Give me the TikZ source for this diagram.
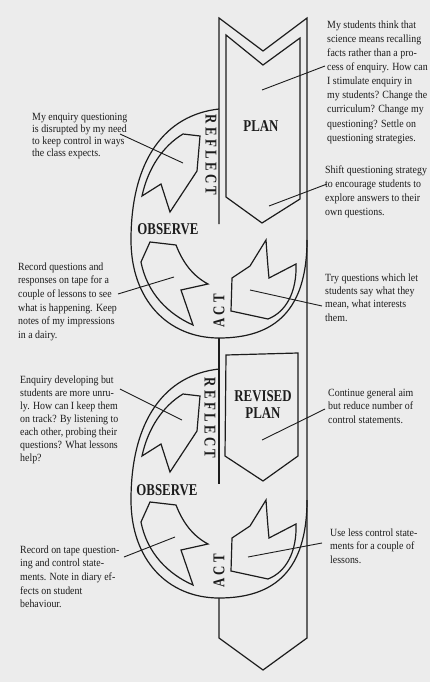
\documentclass[tikz,border=0pt]{standalone}
\usepackage{fontspec}
\setmainfont{Liberation Serif}
\newfontfamily\notefont[FakeStretch=0.9]{Liberation Serif}
\newfontfamily\stagefont[FakeStretch=0.78]{Liberation Serif}
\newfontfamily\sidefont[FakeStretch=0.78,LetterSpace=20]{Liberation Serif}
\usetikzlibrary{calc}
\definecolor{ScanGrey}{RGB}{236,236,236}
\definecolor{InkBlack}{RGB}{28,28,28}

\begin{document}
\begin{tikzpicture}[x=1pt,y=-1pt,InkBlack,
    note/.style={anchor=north west,inner sep=0pt,align=left,font=\notefont\fontsize{11}{13.6}\selectfont},
    stage/.style={inner sep=0pt,font=\stagefont\bfseries\fontsize{16.5}{17}\selectfont},
    side/.style={inner sep=0pt,font=\sidefont\bfseries\fontsize{16.5}{17}\selectfont},
    lead/.style={line width=0.9pt},
    outline/.style={line width=1.2pt,line join=miter}]
    \useasboundingbox (0,0) rectangle (430,682);
    \fill[ScanGrey] (0,0) rectangle (430,682);

    \draw[outline] (219,224) -- (219,18) -- (263,51) -- (307,18) -- (307,638) -- (263,670) -- (219,638) -- (219,598);
    \draw[outline] (219,338) -- (219,484);
    \draw[outline] (226,35) -- (263,65) -- (300,38) -- (300,199) -- (262,223) -- (226,197) -- cycle;
    \draw[outline] (226,355) -- (298,353) -- (298,456) -- (263,481) -- (225,456) -- cycle;

    \draw[outline] (219,109) .. controls (165,115) and (131,160) .. (131,240) .. controls (131,300) and (168,338) .. (219,338) .. controls (275,338) and (307,310) .. (307,240);
    \draw[outline] (219,369) .. controls (165,375) and (131,420) .. (131,500) .. controls (131,560) and (168,598) .. (219,598) .. controls (275,598) and (307,570) .. (307,500);

    \draw[outline] (183,134) -- (200,136) -- (197,171) -- (170,212) -- (161,184) -- (142,196) .. controls (148,168) and (163,146) .. (183,134) -- cycle;
    \draw[outline] (150,242) -- (176,245) .. controls (183,263) and (193,276) .. (208,284) -- (181,290) -- (193,325) .. controls (168,314) and (147,293) .. (141,262) -- cycle;
    \draw[outline] (266,240) .. controls (267,255) and (268,268) .. (269,278) -- (296,264) .. controls (297,292) and (286,312) .. (268,319) -- (231,311) -- (232,278) -- (250,266) -- cycle;
    \draw[outline] (183,394) -- (200,396) -- (197,431) -- (170,472) -- (161,444) -- (142,456) .. controls (148,428) and (163,406) .. (183,394) -- cycle;
    \draw[outline] (150,502) -- (176,505) .. controls (183,523) and (193,536) .. (208,544) -- (181,550) -- (193,585) .. controls (168,574) and (147,553) .. (141,522) -- cycle;
    \draw[outline] (266,500) .. controls (267,515) and (268,528) .. (269,538) -- (296,524) .. controls (297,552) and (286,572) .. (268,579) -- (231,571) -- (232,538) -- (250,526) -- cycle;

    \node[stage] (plan) at (261,126) {PLAN};
    \node[side,rotate=-90] (reflect1) at (211,155) {REFLECT};
    \node[stage] (observe1) at (168,229) {OBSERVE};
    \node[side,rotate=90] (act1) at (219,311) {ACT};
    \node[stage,align=center] (revplan) at (263,405) {REVISED\\PLAN};
    \node[side,rotate=-90] (reflect2) at (210,418) {REFLECT};
    \node[stage] (observe2) at (167,490) {OBSERVE};
    \node[side,rotate=90] (act2) at (219,571) {ACT};

    \node[note,font=\notefont\fontsize{11}{14.1}\selectfont] (qA) at (327,20.5) {My students think that\\science means recalling\\facts rather than a pro-\\cess of enquiry. How can\\I stimulate enquiry in\\my students? Change the\\curriculum? Change my\\questioning? Settle on\\questioning strategies.};
    \node[note,font=\notefont\fontsize{11}{14}\selectfont] (qB) at (325,165.5) {Shift questioning strategy\\to encourage students to\\explore answers to their\\own questions.};
    \node[note,font=\notefont\fontsize{11}{12}\selectfont] (qC) at (32,113.5) {My enquiry questioning\\is disrupted by my need\\to keep control in ways\\the class expects.};
    \node[note] (qD) at (18,262.5) {Record questions and\\responses on tape for a\\couple of lessons to see\\what is happening. Keep\\notes of my impressions\\in a dairy.};
    \node[note,font=\notefont\fontsize{11}{13.3}\selectfont] (qE) at (325,273.5) {Try questions which let\\students say what they\\mean, what interests\\them.};
    \node[note,font=\notefont\fontsize{11}{13}\selectfont] (qF) at (20,375.5) {Enquiry developing but\\students are more unru-\\ly. How can I keep them\\on track? By listening to\\each other, probing their\\questions? What lessons\\help?};
    \node[note] (qG) at (328,388.5) {Continue general aim\\but reduce number of\\control statements.};
    \node[note] (qH) at (330,528.5) {Use less control state-\\ments for a couple of\\lessons.};
    \node[note] (qI) at (20,545.5) {Record on tape question-\\ing and control state-\\ments. Note in diary ef-\\fects on student\\behaviour.};

    \coordinate (pA) at (262,90);
    \coordinate (pB) at (269,206);
    \coordinate (pC) at (183,163);
    \coordinate (pD) at (174,277);
    \coordinate (pE) at (250,290);
    \coordinate (pF) at (182,420);
    \coordinate (pG) at (262,440);
    \coordinate (pH) at (248,557);
    \coordinate (pI) at (175,537);
    \draw[lead] ([shift={(-2,45.5)}]qA.north west) -- (pA);
    \draw[lead] ([shift={(2,18.5)}]qB.north west) -- (pB);
    \draw[lead] ([shift={(88,20.5)}]qC.north west) -- (pC);
    \draw[lead] ([shift={(100,31.5)}]qD.north west) -- (pD);
    \draw[lead] ([shift={(-3,32.5)}]qE.north west) -- (pE);
    \draw[lead] ([shift={(100,13.5)}]qF.north west) -- (pF);
    \draw[lead] ([shift={(-3,20.5)}]qG.north west) -- (pG);
    \draw[lead] ([shift={(-8,14.5)}]qH.north west) -- (pH);
    \draw[lead] ([shift={(104,11.5)}]qI.north west) -- (pI);
  \end{tikzpicture}
\end{document}
